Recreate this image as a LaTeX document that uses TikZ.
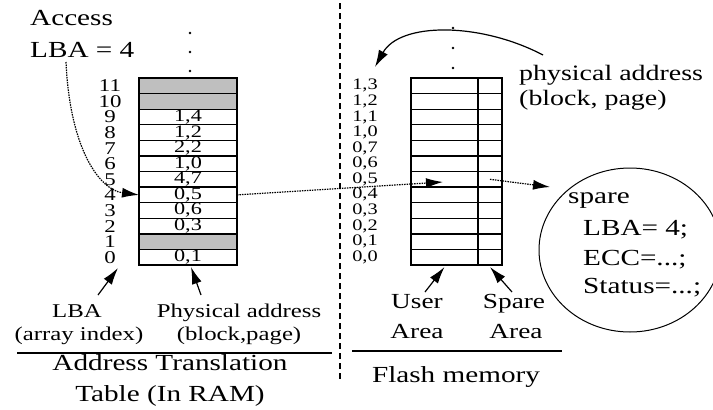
\documentclass[tikz,border=0pt]{standalone}
\usepackage{fontspec}
\setmainfont{Liberation Serif}[FakeStretch=1.27]
\usetikzlibrary{arrows.meta,shapes.geometric}
\begin{document}
\begin{tikzpicture}[x=1pt,y=-1pt,
  cell/.style={draw,line width=1.4pt,minimum width=98pt,minimum height=15.58pt,inner sep=0pt,outer sep=0pt,font=\fontsize{17.5}{16}\selectfont},
  ucell/.style={cell,minimum width=67pt},
  scell/.style={cell,minimum width=24pt},
  grey/.style={fill=gray!50},
  rowlab/.style={inner sep=0pt,font=\fontsize{18}{16}\selectfont},
  flab/.style={inner sep=0pt,font=\fontsize{16}{15}\selectfont},
  txt/.style={inner sep=0pt,font=\fontsize{23}{26}\selectfont},
  lab/.style={inner sep=0pt,font=\fontsize{19.5}{22}\selectfont},
  labb/.style={inner sep=0pt,font=\fontsize{21.5}{24}\selectfont},
  dotn/.style={circle,fill,inner sep=0pt,minimum size=2.8pt},
  arr/.style={-{Latex[length=17pt,width=10pt]},line width=1.2pt},
  dotarr/.style={arr,dash pattern=on 1.5pt off 1pt},
  rule/.style={line width=1.4pt}]
\useasboundingbox (0,0) rectangle (713,410);
\fill[white] (0,0) rectangle (713,410);

% ---------- address translation table ----------
\node[cell] (r0)  at (188,257.21) {0,1};
\node[cell,grey] (r1)  at (188,241.63) {};
\node[cell] (r2)  at (188,226.05) {0,3};
\node[cell] (r3)  at (188,210.47) {0,6};
\node[cell] (r4)  at (188,194.89) {0,5};
\node[cell] (r5)  at (188,179.31) {4,7};
\node[cell] (r6)  at (188,163.73) {1,0};
\node[cell] (r7)  at (188,148.15) {2,2};
\node[cell] (r8)  at (188,132.57) {1,2};
\node[cell] (r9)  at (188,116.99) {1,4};
\node[cell,grey] (r10) at (188,101.41) {};
\node[cell,grey] (r11) at (188,85.83) {};
\foreach \i in {0,...,11}
  \node[rowlab] (l\i) at (110,{265-15.58*(\i+0.5)}) {\i};

\node[dotn] (ld1) at (190,33) {};
\node[dotn] (ld2) at (190,52) {};
\node[dotn] (ld3) at (190,71) {};

% ---------- flash memory ----------
\foreach \j/\a/\b in {0/0/0,1/0/1,2/0/2,3/0/3,4/0/4,5/0/5,6/0/6,7/0/7,8/1/0,9/1/1,10/1/2,11/1/3}{
  \node[ucell] (u\j) at (444.5,{265-15.58*(\j+0.5)}) {};
  \node[scell] (s\j) at (490,{265-15.58*(\j+0.5)}) {};
  \node[flab] (f\j) at (365,{265-15.58*(\j+0.5)}) {\a,\b};
}
\node[dotn] (rd1) at (453,28) {};
\node[dotn] (rd2) at (453,48) {};
\node[dotn] (rd3) at (453,68) {};

% ---------- divider ----------
\draw[line width=1.3pt,dash pattern=on 6pt off 4pt] (340,3) -- (340,382);

% ---------- texts ----------
\node[txt,anchor=base west] (acc)  at (30,25) {Access};
\node[txt,anchor=base west] (lba4) at (30,57) {LBA = 4};
\node[txt,anchor=base west,font=\fontsize{22}{26}\selectfont] (phys) at (519,80) {physical address};
\node[txt,anchor=base west,font=\fontsize{22}{26}\selectfont] (blk)  at (519,105) {(block, page)};

\node[lab,anchor=base] (lbal) at (77,317) {LBA};
\node[lab,anchor=base] (aidx) at (79,340) {(array index)};
\node[lab,anchor=base] (pal)  at (239,317) {Physical address};
\node[lab,anchor=base] (bpl)  at (239,340) {(block,page)};
\draw[rule] (17,353) -- (332,353);
\node[txt,anchor=base] (att1) at (170,370) {Address Translation};
\node[txt,anchor=base] (att2) at (170,401) {Table (In RAM)};

\node[labb,anchor=base] (user)  at (417,308) {User};
\node[labb,anchor=base] (ua)    at (417,338) {Area};
\node[labb,anchor=base] (spare) at (514,308) {Spare};
\node[labb,anchor=base] (sa)    at (516,338) {Area};
\draw[rule] (352,351) -- (562,351);
\node[txt,anchor=base] (fm) at (456,382) {Flash memory};

% ---------- spare area detail ----------
\node[ellipse,draw,line width=1pt,minimum width=182pt,minimum height=164pt] (ell) at (630,250) {};
\node[txt,anchor=base west] (sp1) at (568,203) {spare};
\node[txt,anchor=base west] (sp2) at (583,235) {LBA= 4;};
\node[txt,anchor=base west] (sp3) at (583,265) {ECC=...;};
\node[txt,anchor=base west] (sp4) at (583,293) {Status=...;};

% ---------- connectors ----------
\coordinate (a1) at (66,62);
\draw[dotarr] (a1) .. controls (70,150) and (100,190) .. (r4.west);
\coordinate (ftip) at (443,182);
\draw[dotarr] (r4.east) -- (ftip);
\coordinate (stip) at (550,187);
\draw[dotarr] (s5.center) -- (stip);
\coordinate (pstart) at (543,55);
\coordinate (ptip) at (375,67);
\draw[arr] (pstart) .. controls (480,22) and (400,22) .. (ptip);

\coordinate (b1) at (98,295);
\coordinate (b1t) at (118,268);
\draw[arr] (b1) -- (b1t);
\coordinate (b2) at (201,295);
\draw[arr] (b2) -- ([xshift=3pt,yshift=-2pt]r0.south);
\coordinate (b3) at (425,292);
\draw[arr] (b3) -- ([yshift=-2pt]u0.south);
\coordinate (b4) at (512,292);
\draw[arr] (b4) -- ([yshift=-2pt]s0.south);
\end{tikzpicture}
\end{document}
